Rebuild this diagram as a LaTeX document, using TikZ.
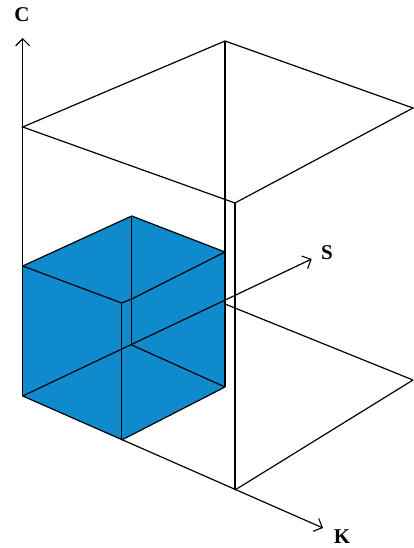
\documentclass[tikz,border=0pt]{standalone}
\usepackage{fontspec}
\setmainfont{Liberation Serif}
\usetikzlibrary{arrows.meta}
\definecolor{cubeblue}{RGB}{14,138,205}
\begin{document}
\begin{tikzpicture}[x=1pt,y=-1pt,
  edge/.style={line width=1.2pt, black},
  axis/.style={edge, -{Straight Barb[length=7pt,width=14pt,line width=1.1pt]}},
  lbl/.style={font=\bfseries\fontsize{21}{24}\selectfont, inner sep=0pt}]
\useasboundingbox (0,0) rectangle (414,548);
% axes
\coordinate (O) at (22.7,396);
\coordinate (Ctip) at (22.7,38);
\coordinate (Stip) at (311.7,259);
\coordinate (Ktip) at (323,528);
% big box
\coordinate (Ttl) at (22.7,127);
\coordinate (Tb) at (225,41);
\coordinate (Tr) at (413,108);
\coordinate (Tf) at (235,203);
\coordinate (Bk) at (235,490);
\coordinate (Br) at (413,380);
\coordinate (Bs) at (225,304);
% cube
\coordinate (Cl) at (22.7,266);
\coordinate (Cb) at (131.7,216);
\coordinate (Cr) at (225,252);
\coordinate (Crb) at (225,387);
\coordinate (Cf) at (121.7,440);
\coordinate (Cft) at (121.7,303);
\coordinate (Cft2) at (131.7,299);
\coordinate (Ch) at (131.7,345);
% cube fill
\fill[cubeblue] (Cl) -- (Cb) -- (Cr) -- (Crb) -- (Cf) -- (O) -- cycle;
% cube edges
\draw[edge] (Cl) -- (Cb) -- (Cr);
\draw[edge] (Cl) -- (Cft) -- (Cft2) -- (Cr);
\draw[edge] (Cft) -- (Cf);
\draw[edge] (Cb) -- (Ch);
\draw[edge] (Ch) -- (Crb);
\draw[edge] (Cf) -- (Crb);
% big box
\draw[edge] (Ttl) -- (Tb) -- (Tr) -- (Tf) -- cycle;
\draw[edge] (Tb) -- (Crb);
\draw[edge] (Tf) -- (Bk);
\draw[edge] (Bk) -- (Br);
\draw[edge] (Bs) -- (Br);
% axes
\draw[axis] (O) -- (Ctip);
\draw[axis] (O) -- (Stip);
\draw[axis] (O) -- (Ktip);
% labels
\node[lbl] (lC) at (22,15) {C};
\node[lbl] (lS) at (327,253) {S};
\node[lbl] (lK) at (342,537) {K};
\end{tikzpicture}
\end{document}
